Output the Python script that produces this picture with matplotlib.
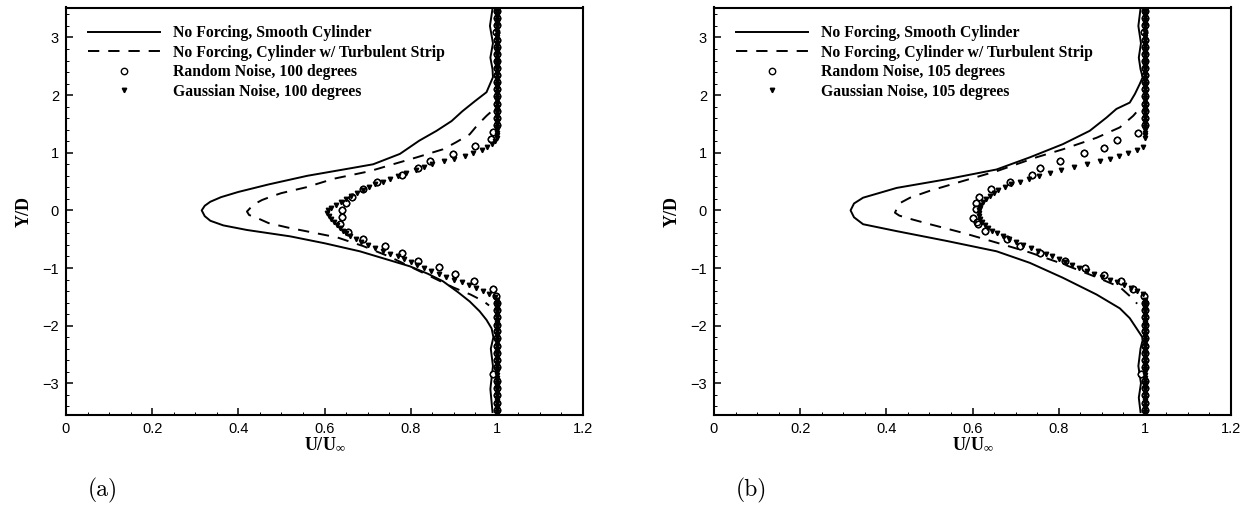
import matplotlib
matplotlib.use("Agg")
import matplotlib.pyplot as plt

# ---------------- data (U/U_inf, Y/D) ----------------
# panel (a): 100 degrees
smooth_a_u = [0.990, 0.984, 0.991, 0.985, 0.990, 0.991, 0.976, 0.950, 0.920, 0.895, 0.860,
              0.820, 0.775, 0.713, 0.660, 0.560, 0.470, 0.400, 0.360, 0.335, 0.322, 0.315,
              0.322, 0.335, 0.365, 0.420, 0.520, 0.600, 0.682, 0.740, 0.798, 0.840, 0.875,
              0.910, 0.937, 0.960, 0.976, 0.988, 0.992, 0.986, 0.991, 0.985, 0.990]
smooth_a_y = [3.50, 3.20, 2.90, 2.65, 2.45, 2.31, 2.05, 1.90, 1.72, 1.55, 1.38,
              1.21, 0.98, 0.80, 0.73, 0.60, 0.45, 0.32, 0.23, 0.15, 0.08, 0.00,
              -0.10, -0.18, -0.26, -0.34, -0.45, -0.57, -0.71, -0.84, -0.97, -1.10, -1.23,
              -1.42, -1.58, -1.75, -1.90, -2.05, -2.20, -2.40, -2.70, -3.10, -3.50]

strip_a_u = [0.985, 0.976, 0.955, 0.937, 0.905, 0.875, 0.814, 0.759, 0.705, 0.622, 0.557,
             0.500, 0.476, 0.455, 0.435, 0.420, 0.425, 0.443, 0.470, 0.516, 0.570, 0.630,
             0.690, 0.750, 0.800, 0.850, 0.900, 0.939, 0.970, 0.982]
strip_a_y = [1.70, 1.64, 1.48, 1.32, 1.18, 1.06, 0.92, 0.80, 0.68, 0.55, 0.40,
             0.30, 0.24, 0.18, 0.10, -0.02, -0.08, -0.13, -0.22, -0.30, -0.38, -0.47,
             -0.62, -0.80, -0.98, -1.16, -1.34, -1.46, -1.58, -1.65]

random_a_u = [0.990, 0.986, 0.949, 0.899, 0.845, 0.818, 0.779, 0.721, 0.689, 0.664, 0.650,
              0.640, 0.640, 0.637, 0.655, 0.690, 0.740, 0.779, 0.817, 0.865, 0.904, 0.947,
              0.991, 0.999]
random_a_y = [1.36, 1.24, 1.11, 0.98, 0.86, 0.74, 0.62, 0.49, 0.37, 0.24, 0.12,
              0.00, -0.12, -0.24, -0.37, -0.50, -0.62, -0.74, -0.87, -0.99, -1.11, -1.23,
              -1.36, -1.48]

gauss_a_u = [0.995, 0.988, 0.978, 0.965, 0.945, 0.925, 0.900, 0.878, 0.850, 0.832, 0.812,
             0.790, 0.770, 0.752, 0.735, 0.718, 0.703, 0.690, 0.676, 0.662, 0.650, 0.638,
             0.626, 0.616, 0.608, 0.605, 0.610, 0.616, 0.622, 0.628, 0.636, 0.643, 0.650,
             0.660, 0.672, 0.685, 0.700, 0.718, 0.735, 0.752, 0.770, 0.785, 0.800, 0.815,
             0.830, 0.848, 0.865, 0.882, 0.900, 0.918, 0.935, 0.952, 0.968, 0.982, 0.995]
gauss_a_y = [1.20, 1.15, 1.10, 1.05, 1.00, 0.95, 0.90, 0.85, 0.80, 0.75, 0.70,
             0.65, 0.60, 0.55, 0.50, 0.45, 0.40, 0.35, 0.30, 0.25, 0.20, 0.15,
             0.10, 0.05, 0.00, -0.05, -0.10, -0.15, -0.20, -0.25, -0.30, -0.35, -0.40,
             -0.45, -0.50, -0.55, -0.60, -0.65, -0.70, -0.75, -0.80, -0.85, -0.90, -0.95,
             -1.00, -1.05, -1.10, -1.15, -1.20, -1.25, -1.30, -1.35, -1.40, -1.45, -1.50]

# panel (b): 105 degrees
smooth_b_u = [0.990, 0.985, 0.991, 0.986, 0.990, 0.995, 0.988, 0.977, 0.965, 0.934, 0.911,
              0.872, 0.810, 0.733, 0.656, 0.540, 0.424, 0.346, 0.325, 0.317, 0.325, 0.346,
              0.424, 0.540, 0.656, 0.733, 0.810, 0.888, 0.942, 0.965, 0.981, 0.996, 0.990,
              0.985, 0.991, 0.986, 0.990]
smooth_b_y = [3.50, 3.20, 2.90, 2.65, 2.45, 2.31, 2.19, 2.02, 1.87, 1.76, 1.61,
              1.38, 1.15, 0.92, 0.71, 0.54, 0.39, 0.22, 0.12, 0.00, -0.12, -0.24,
              -0.36, -0.53, -0.71, -0.91, -1.17, -1.46, -1.70, -1.87, -2.05, -2.22, -2.40,
              -2.70, -3.00, -3.25, -3.50]

strip_b_u = [0.980, 0.973, 0.942, 0.888, 0.810, 0.748, 0.656, 0.578, 0.501, 0.455, 0.430,
             0.420, 0.430, 0.447, 0.501, 0.578, 0.656, 0.733, 0.810, 0.888, 0.942, 0.976,
             0.982]
strip_b_y = [1.70, 1.64, 1.44, 1.26, 1.06, 0.92, 0.68, 0.51, 0.34, 0.22, 0.12,
             -0.04, -0.09, -0.13, -0.24, -0.39, -0.56, -0.73, -0.93, -1.16, -1.33, -1.56,
             -1.62]

random_b_u = [0.985, 0.936, 0.905, 0.858, 0.803, 0.756, 0.737, 0.687, 0.644, 0.616, 0.609,
              0.607, 0.602, 0.610, 0.613, 0.629, 0.679, 0.710, 0.756, 0.814, 0.861, 0.905,
              0.944, 0.973, 0.998]
random_b_y = [1.35, 1.22, 1.09, 0.99, 0.86, 0.74, 0.61, 0.50, 0.37, 0.23, 0.13,
              0.02, -0.13, -0.20, -0.24, -0.36, -0.49, -0.62, -0.74, -0.87, -1.00, -1.12,
              -1.23, -1.36, -1.48]

gauss_b_u = [0.996, 0.981, 0.962, 0.940, 0.920, 0.895, 0.865, 0.835, 0.805, 0.780, 0.755,
             0.730, 0.710, 0.690, 0.675, 0.660, 0.650, 0.640, 0.632, 0.625, 0.620, 0.618,
             0.616, 0.615, 0.615, 0.618, 0.622, 0.628, 0.636, 0.645, 0.657, 0.670, 0.684,
             0.700, 0.718, 0.735, 0.752, 0.770, 0.785, 0.800, 0.815, 0.830, 0.848, 0.865,
             0.882, 0.900, 0.918, 0.935, 0.952, 0.968, 0.982, 0.995]
gauss_b_y = [1.10, 1.05, 1.00, 0.95, 0.90, 0.85, 0.80, 0.75, 0.70, 0.65, 0.60,
             0.55, 0.50, 0.45, 0.40, 0.35, 0.30, 0.25, 0.20, 0.15, 0.10, 0.05,
             0.00, -0.05, -0.10, -0.15, -0.20, -0.25, -0.30, -0.35, -0.40, -0.45, -0.50,
             -0.55, -0.60, -0.65, -0.70, -0.75, -0.80, -0.85, -0.90, -0.95, -1.00, -1.05,
             -1.10, -1.15, -1.20, -1.25, -1.30, -1.35, -1.40, -1.45]

# free-stream stations (both panels), U/U_inf ~ 1 there
circle_free_y = [3.46, 3.34, 3.21, 3.09, 2.96, 2.84, 2.72, 2.59, 2.47, 2.35, 2.22,
                 2.10, 1.98, 1.85, 1.73, 1.61, 1.48,
                 -1.61, -1.73, -1.85, -1.98, -2.10, -2.22, -2.35, -2.47, -2.59, -2.72,
                 -2.84, -2.96, -3.09, -3.21, -3.34, -3.46]
circle_free_u = [1.0, 1.0, 1.0, 0.998, 1.0, 1.0, 1.0, 1.0, 1.0, 1.0, 1.0,
                 1.0, 1.0, 1.0, 1.0, 1.0, 1.0,
                 1.0, 1.0, 1.0, 1.0, 1.0, 1.0, 1.0, 1.0, 1.0, 1.0,
                 0.992, 1.0, 1.0, 1.0, 1.0, 1.0]
tri_free_y = [3.50, 3.45, 3.40, 3.35, 3.30, 3.25, 3.20, 3.15, 3.10, 3.05, 3.00,
              2.95, 2.90, 2.85, 2.80, 2.75, 2.70, 2.65, 2.60, 2.55, 2.50, 2.45,
              2.40, 2.35, 2.30, 2.25, 2.20, 2.15, 2.10, 2.05, 2.00, 1.95, 1.90,
              1.85, 1.80, 1.75, 1.70, 1.65, 1.60, 1.55, 1.50, 1.45, 1.40, 1.35,
              1.30, 1.25,
              -1.55, -1.60, -1.65, -1.70, -1.75, -1.80, -1.85, -1.90, -1.95, -2.00,
              -2.05, -2.10, -2.15, -2.20, -2.25, -2.30, -2.35, -2.40, -2.45, -2.50,
              -2.55, -2.60, -2.65, -2.70, -2.75, -2.80, -2.85, -2.90, -2.95, -3.00,
              -3.05, -3.10, -3.15, -3.20, -3.25, -3.30, -3.35, -3.40, -3.45, -3.50]
tri_free_u = [1.0] * len(tri_free_y)

labels_a = ["No Forcing, Smooth Cylinder", "No Forcing, Cylinder w/ Turbulent Strip",
            "Random Noise, 100 degrees", "Gaussian Noise, 100 degrees"]
labels_b = ["No Forcing, Smooth Cylinder", "No Forcing, Cylinder w/ Turbulent Strip",
            "Random Noise, 105 degrees", "Gaussian Noise, 105 degrees"]

SERIF = "Liberation Serif"
SANS = "Liberation Sans"


def draw_panel(ax, smooth, strip, random, gauss, labels, tag):
    ax.plot(*smooth, color="black", lw=1.4, label=labels[0])
    ax.plot(*strip, color="black", lw=1.4, dashes=(5.8, 4.6), label=labels[1])
    gu = gauss[0] + tri_free_u
    gy = gauss[1] + tri_free_y
    ru = random[0] + circle_free_u
    ry = random[1] + circle_free_y
    ax.plot(ru, ry, ls="none", marker="o", ms=4.6, mfc="white", mec="black",
            mew=1.0, label=labels[2])
    ax.plot(gu, gy, ls="none", marker="v", ms=3.2, color="black", label=labels[3])
    # circle edges stay visible over the triangle chain
    ax.plot(ru, ry, ls="none", marker="o", ms=4.6, mfc="none", mec="black", mew=1.0)

    ax.set_xlim(0, 1.2)
    ax.set_ylim(-3.55, 3.52)
    ax.set_xticks([0, 0.2, 0.4, 0.6, 0.8, 1.0, 1.2])
    ax.set_xticklabels(["0", "0.2", "0.4", "0.6", "0.8", "1", "1.2"])
    ax.set_yticks([-3, -2, -1, 0, 1, 2, 3])
    ax.set_xticks([i * 0.05 for i in range(25)], minor=True)
    ax.set_yticks([-3.4 + i * 0.2 for i in range(35)], minor=True)
    ax.tick_params(which="both", direction="in", top=False, right=False,
                   labelsize=10.5, width=1.1)
    ax.tick_params(which="major", length=5, pad=5)
    ax.tick_params(which="minor", length=2.5, width=0.7)
    for lab in ax.get_xticklabels() + ax.get_yticklabels():
        lab.set_fontfamily(SANS)
    for sp in ax.spines.values():
        sp.set_linewidth(1.5)

    ax.set_xlabel(r"$\mathbf{U/U_{\infty}}$", fontsize=13, labelpad=0)
    ax.set_ylabel("Y/D", fontsize=13, fontweight="bold", fontfamily=SERIF, labelpad=7)

    ax.legend(loc="upper left", bbox_to_anchor=(0.031, 0.972), borderaxespad=0,
              frameon=False, prop={"family": SERIF, "weight": "bold", "size": 11.3},
              handlelength=4.6, handletextpad=0.8, labelspacing=0.22, borderpad=0.4)
    ax.text(0.072, -0.185, tag, transform=ax.transAxes, fontsize=17,
            fontfamily="cmr10", ha="center", va="center")


plt.rcParams["mathtext.fontset"] = "custom"
plt.rcParams["mathtext.bf"] = "Liberation Serif:bold"
plt.rcParams["mathtext.rm"] = "Liberation Serif"

fig = plt.figure(figsize=(12.54, 5.21), dpi=100)
W, H = 1254, 521
ax_a = fig.add_axes([66 / W, (H - 415) / H, 517 / W, 407.5 / H])
ax_b = fig.add_axes([714 / W, (H - 415) / H, 517 / W, 407.5 / H])

draw_panel(ax_a, (smooth_a_u, smooth_a_y), (strip_a_u, strip_a_y),
           (random_a_u, random_a_y), (gauss_a_u, gauss_a_y), labels_a, "(a)")
draw_panel(ax_b, (smooth_b_u, smooth_b_y), (strip_b_u, strip_b_y),
           (random_b_u, random_b_y), (gauss_b_u, gauss_b_y), labels_b, "(b)")

fig.savefig("out.png", dpi=100)
